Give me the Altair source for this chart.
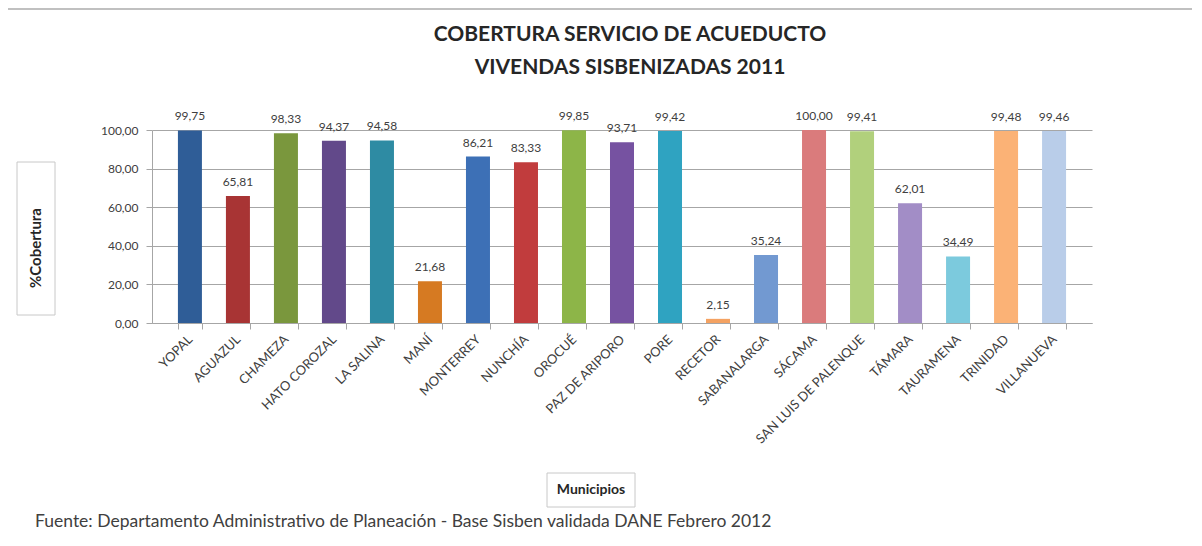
import altair as alt
import pandas as pd

municipios = ["YOPAL", "AGUAZUL", "CHAMEZA", "HATO COROZAL", "LA SALINA", "MANÍ",
              "MONTERREY", "NUNCHÍA", "OROCUÉ", "PAZ DE ARIPORO", "PORE", "RECETOR",
              "SABANALARGA", "SÁCAMA", "SAN LUIS DE PALENQUE", "TÁMARA", "TAURAMENA",
              "TRINIDAD", "VILLANUEVA"]
cobertura = [99.75, 65.81, 98.33, 94.37, 94.58, 21.68, 86.21, 83.33, 99.85, 93.71,
             99.42, 2.15, 35.24, 100.00, 99.41, 62.01, 34.49, 99.48, 99.46]
colores = ["#2f5d97", "#a83434", "#7a973d", "#62498a", "#2e8ba3", "#d67a22",
           "#3d70b6", "#c13c3d", "#8db548", "#7652a1", "#2fa3c1", "#f4a262",
           "#7299d1", "#da7b7c", "#b1d07c", "#a28dc6", "#7ccadd", "#fbb276", "#b9cde9"]
ticks_y = [0, 20, 40, 60, 80, 100]

titulo1 = "COBERTURA SERVICIO DE ACUEDUCTO"
titulo2 = "VIVENDAS SISBENIZADAS 2011"
eje_y = "%Cobertura"
eje_x = "Municipios"
fuente = "Fuente: Departamento Administrativo de Planeación - Base Sisben validada DANE Febrero 2012"

df = pd.DataFrame({"m": municipios, "v": cobertura})
FONT = "Lato"
TXT = "#404040"

base = alt.Chart(df)

x_enc = alt.X("m:N", sort=municipios, title=None,
              scale=alt.Scale(paddingInner=0.5, paddingOuter=0.54),
              axis=alt.Axis(labelAngle=-45, labelAlign="right", labelBaseline="middle",
                            labelFontSize=13, labelColor=TXT, labelFont=FONT,
                            tickBand="extent", tickColor="#a6a6a6", tickSize=6,
                            domainColor="#a6a6a6", labelPadding=8, labelOverlap=False))
y_enc = alt.Y("v:Q", title=None, scale=alt.Scale(domain=[0, 100], nice=False),
              axis=alt.Axis(values=ticks_y, labelOverlap=False,
                            labelExpr="replace(format(datum.value, '.2f'), '.', ',')",
                            labelFontSize=12, labelColor=TXT, labelFont=FONT,
                            gridColor="#a6a6a6", tickColor="#a6a6a6", domainColor="#a6a6a6",
                            tickSize=6, labelPadding=8))

bars = base.mark_bar().encode(
    x=x_enc, y=y_enc,
    color=alt.Color("m:N", scale=alt.Scale(domain=municipios, range=colores), legend=None),
)

labels = base.transform_calculate(
    lab="replace(format(datum.v, '.2f'), '.', ',')"
).mark_text(dy=-14, fontSize=12, color=TXT, font=FONT).encode(
    x=x_enc, y=y_enc, text="lab:N")

def txt(s, x, y, size, bold=False, angle=0, align="center"):
    return alt.Chart(pd.DataFrame({"t": [s]})).mark_text(
        fontSize=size, fontWeight="bold" if bold else "normal", font=FONT,
        color="#262626" if bold else TXT, angle=angle, align=align, baseline="middle"
    ).encode(text="t:N", x=alt.value(x), y=alt.value(y))

def box(x1, x2, y1, y2):
    return alt.Chart(pd.DataFrame({"t": [0]})).mark_rect(
        fill="white", stroke="#c8c8c8", strokeWidth=1
    ).encode(x=alt.value(x1), x2=alt.value(x2), y=alt.value(y1), y2=alt.value(y2))

def line(x1, x2, y1, y2):
    return alt.Chart(pd.DataFrame({"t": [0]})).mark_rule(
        color="#c0c0c0", strokeWidth=2
    ).encode(x=alt.value(x1), x2=alt.value(x2), y=alt.value(y1), y2=alt.value(y2))

chart = alt.layer(
    line(-151, -151, -121, 390),
    line(-151, 1040, -121, -121),
    bars, labels,
    txt(titulo1, 478, -95, 21, bold=True),
    txt(titulo2, 478, -62, 21, bold=True),
    box(-135, -97, 32, 185),
    txt(eje_y, -116, 118, 15, bold=True, angle=270),
    box(395, 483, 343, 377),
    txt(eje_x, 439, 360, 14, bold=True),
    txt(fuente, -117, 392, 17.5, align="left"),
).properties(
    width=940, height=193,
    autosize=alt.AutoSizeParams(type="none"),
    padding={"left": 144, "top": 122, "right": 100, "bottom": 214},
).configure_view(stroke=None)

chart.save("out.html", embed_options={"renderer": "svg", "actions": False})
